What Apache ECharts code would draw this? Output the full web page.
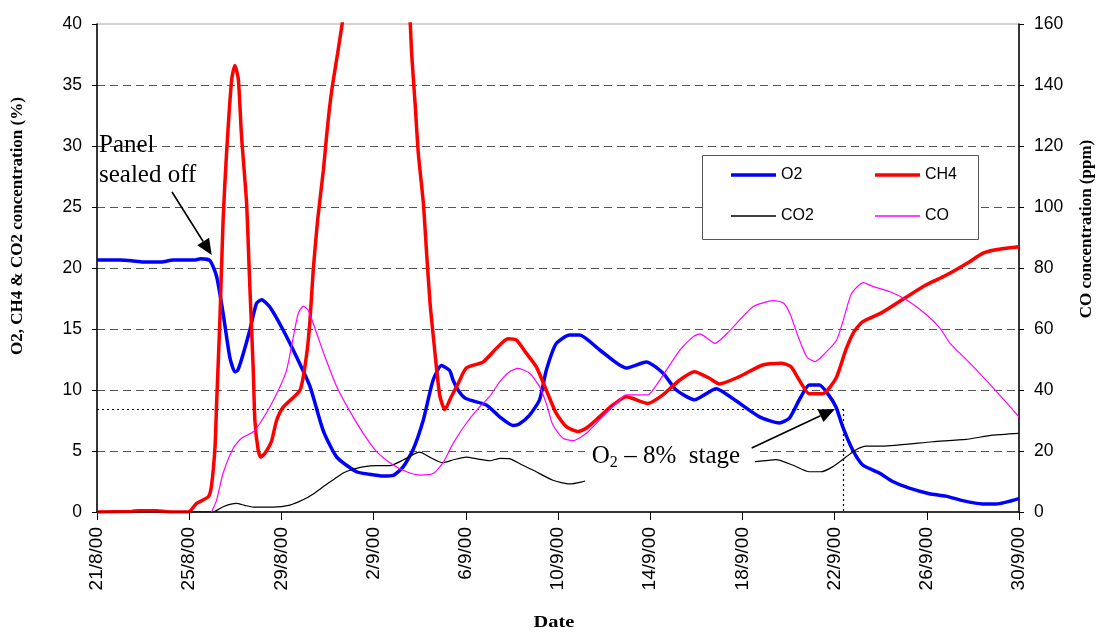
<!DOCTYPE html>
<html>
<head>
<meta charset="utf-8">
<script src="https://cdn.jsdelivr.net/npm/echarts/dist/echarts.min.js"></script>
<style>
  html, body { margin: 0; padding: 0; background: #fff; }
  #chart { width: 1104px; height: 634px; }
</style>
</head>
<body>
<div id="chart"></div>
<script>
// Date axis: days counted from 21/8/00, one label every 4 days
const dateTicks = ['21/8/00', '25/8/00', '29/8/00', '2/9/00', '6/9/00', '10/9/00',
                   '14/9/00', '18/9/00', '22/9/00', '26/9/00', '30/9/00'];
const tickStepDays = 4;

// O2 concentration (%), [day, value]
const o2 = [
  [0, 20.65], [1, 20.65], [1.5, 20.6], [2, 20.5], [2.8, 20.5], [3.3, 20.65], [4.2, 20.65],
  [4.5, 20.75], [4.9, 20.6], [5.19, 19.3], [5.47, 16.3], [5.76, 12.7], [5.98, 11.5], [6.1, 11.6],
  [6.27, 12.5], [6.63, 14.9], [6.92, 17.1], [7.14, 17.4], [7.5, 16.8], [8.08, 14.9], [8.66, 12.7],
  [9.24, 10.3], [9.81, 6.7], [10.4, 4.5], [11.26, 3.3], [11.8, 3.1], [12.41, 2.95], [12.85, 3.0],
  [13.28, 3.7], [13.71, 5.1], [14.15, 7.5], [14.58, 10.8], [14.94, 12.0], [15.3, 11.6],
  [15.45, 10.8], [15.7, 9.9], [16.0, 9.3], [16.89, 8.77], [17.47, 7.8], [18.04, 7.1], [18.3, 7.2],
  [18.77, 7.95], [19.2, 9.2], [19.49, 11.6], [19.92, 13.8], [20.5, 14.5], [20.94, 14.5],
  [21.8, 13.3], [22.96, 11.8], [23.83, 12.3], [24.55, 11.4], [25.13, 10.0], [25.92, 9.2],
  [26.86, 10.1], [27.58, 9.3], [28.74, 7.8], [29.6, 7.3], [30.04, 7.7], [30.47, 9.2],
  [30.9, 10.4], [31.34, 10.4], [31.7, 9.7], [32.06, 8.6], [32.35, 7.0], [32.78, 5.1],
  [33.22, 3.85], [33.94, 3.2], [34.52, 2.5], [35.24, 1.95], [36.11, 1.5], [36.83, 1.3],
  [37.55, 0.93], [38.42, 0.66], [39.0, 0.66], [40, 1.1]
];

// CH4 concentration (%), [day, value]
const ch4 = [
  [0, 0], [1.5, 0.05], [1.8, 0.1], [2.6, 0.1], [3.0, 0.02], [3.5, 0], [3.96, 0], [4.32, 0.7],
  [4.83, 1.25], [4.97, 2.2], [5.12, 5.35], [5.19, 8.9], [5.33, 15.7], [5.47, 23.9], [5.62, 29.4],
  [5.84, 35.4], [5.98, 36.6], [6.13, 35.5], [6.27, 30.8], [6.49, 25.3], [6.63, 18.5],
  [6.78, 11.6], [6.85, 7.5], [6.99, 5.1], [7.1, 4.5], [7.28, 4.8], [7.57, 5.8], [7.79, 7.5],
  [8.08, 8.6], [8.81, 10.0], [9.1, 13.0], [9.24, 15.7], [9.38, 19.8], [9.57, 23.9], [9.82, 28.0],
  [9.96, 30.8], [10.08, 33.0], [10.21, 34.9], [10.44, 37.6], [10.66, 40.3], [11.2, 47],
  [12.0, 53], [12.8, 52], [13.3, 45], [13.58, 40.3], [13.65, 37.6], [13.8, 33.5], [13.94, 29.4],
  [14.16, 25.3], [14.3, 21.2], [14.45, 17.1], [14.59, 14.4], [14.74, 11.6], [14.88, 9.45],
  [15.09, 8.4], [15.37, 9.45], [15.66, 10.5], [16.02, 11.8], [16.75, 12.3], [17.32, 13.4],
  [17.83, 14.2], [18.19, 14.1], [18.63, 13.0], [19.06, 11.9], [19.49, 10.0], [19.92, 8.1],
  [20.36, 7.0], [20.86, 6.6], [21.22, 6.86], [21.8, 7.8], [22.38, 8.77], [22.96, 9.45],
  [23.25, 9.3], [23.9, 8.9], [24.55, 9.6], [25.27, 10.8], [25.92, 11.5], [26.57, 10.96],
  [27.0, 10.5], [27.87, 11.1], [28.88, 12.05], [29.68, 12.2], [30.11, 11.9], [30.47, 10.8],
  [30.9, 9.7], [31.48, 9.7], [32.06, 10.96], [32.49, 13.3], [32.85, 14.8], [33.22, 15.6],
  [34.01, 16.3], [35.1, 17.6], [35.96, 18.6], [36.83, 19.4], [37.84, 20.5], [38.42, 21.2],
  [39.0, 21.5], [40, 21.75]
];

// CO2 concentration (%), [day, value]
const co2 = [
  [0, 0], [5.04, 0], [5.47, 0.43], [6.05, 0.7], [6.4, 0.55], [6.78, 0.4], [7.65, 0.4],
  [8.37, 0.57], [8.94, 1.0], [9.4, 1.5], [9.81, 2.07], [10.3, 2.7], [10.68, 3.2], [11.1, 3.5],
  [11.54, 3.7], [12.12, 3.8], [12.7, 3.8], [13.28, 4.26], [14.0, 4.9], [14.43, 4.5],
  [15.0, 4.04], [15.5, 4.3], [16.02, 4.5], [16.5, 4.35], [17.03, 4.2], [17.5, 4.4], [17.9, 4.37],
  [18.4, 3.9], [18.91, 3.44], [19.78, 2.6], [20.5, 2.3], [21.0, 2.45], [21.44, 2.7],
  [22.5, 3.0], [24, 3.4], [25.5, 3.8], [27, 4.0], [28.0, 4.05], [28.45, 4.1], [29.46, 4.3],
  [30.18, 3.85], [30.9, 3.3], [31.41, 3.3], [31.91, 3.7], [32.49, 4.5], [32.93, 5.1],
  [33.36, 5.4], [34.08, 5.4], [36.25, 5.76], [37.7, 5.95], [38.85, 6.3], [40, 6.45]
];

// CO concentration (ppm, right axis), [day, value]
const co = [
  [4.97, 0], [5.19, 3.9], [5.47, 12.7], [5.91, 20.9], [6.27, 24.2], [6.78, 26.3], [7.07, 29.1],
  [7.5, 34.5], [7.94, 41.1], [8.23, 46.6], [8.52, 57.5], [8.73, 65.1], [8.95, 67.5],
  [9.16, 66.2], [9.53, 58.6], [9.89, 50.9], [10.4, 41.1], [10.98, 32.9], [11.55, 25.8],
  [12.13, 19.8], [12.85, 15.4], [13.43, 13.2], [14.0, 12.1], [14.58, 12.6], [15.0, 16.0],
  [15.45, 22.5], [16.02, 29.1], [16.6, 34.5], [17.03, 37.8], [17.47, 42.7], [17.9, 46.0],
  [18.27, 47.1], [18.77, 45.5], [19.2, 41.1], [19.49, 35.6], [19.78, 28.5], [20.22, 24.2],
  [20.65, 23.4], [21.23, 25.8], [21.8, 30.2], [22.38, 34.5], [22.96, 38.4], [23.9, 38.4],
  [24.27, 41.6], [24.71, 46.6], [25.29, 53.1], [25.87, 57.5], [26.16, 58.4], [26.81, 55.3],
  [27.44, 59.4], [28.46, 67.3], [29.34, 69.3], [29.77, 68.6], [30.06, 65.1], [30.42, 57.5],
  [30.79, 50.9], [31.15, 49.3], [31.58, 52.0], [32.09, 56.4], [32.38, 63.0], [32.74, 71.7],
  [33.25, 75.2], [33.68, 73.9], [34.41, 72.2], [35.13, 69.5], [36.0, 64.6], [36.58, 60.2],
  [37.01, 55.3], [37.87, 48.8], [38.89, 40.6], [40, 31.2]
];

// O2 8% stage marker (day, % level)
const stageDay = 32.36;
const stageLevel = 8.45;

const SANS = '"Liberation Sans", Arial, sans-serif';
const SERIF = '"Liberation Serif", "Times New Roman", serif';

const chart = echarts.init(document.getElementById('chart'), null, { renderer: 'canvas' });

function lineSeries(name, data, color, width, yIndex, z) {
  return {
    name, type: 'line', data, yAxisIndex: yIndex,
    symbol: 'none', smooth: 0.2, z,
    lineStyle: { color, width },
    itemStyle: { color },
    emphasis: { disabled: true },
    animation: false
  };
}

// two single-row legends so the columns line up; bar icons mimic the line weights
function legendRow(top, names, barHeight) {
  return {
    orient: 'horizontal', left: 731, top, padding: 0,
    icon: 'rect', itemWidth: 45, itemHeight: barHeight, itemGap: 14,
    selectedMode: false, z: 5, data: names,
    textStyle: { fontFamily: SANS, fontSize: 16, lineHeight: 16, color: '#000', width: 80 }
  };
}

// arrow = shaft line plus filled head
function arrow(x1, y1, x2, y2) {
  const dx = x2 - x1, dy = y2 - y1, len = Math.hypot(dx, dy);
  const ux = dx / len, uy = dy / len, hl = 16, hw = 7;
  const bx = x2 - ux * hl, by = y2 - uy * hl;
  return [
    { type: 'line', z: 10, shape: { x1, y1, x2: bx, y2: by }, style: { stroke: '#000', lineWidth: 1.6 } },
    { type: 'polygon', z: 10,
      shape: { points: [[x2, y2], [bx - uy * hw, by + ux * hw], [bx + uy * hw, by - ux * hw]] },
      style: { fill: '#000' } }
  ];
}

chart.setOption({
  animation: false,
  backgroundColor: '#fff',
  grid: { left: 97, right: 85, top: 24, bottom: 122, show: true,
          borderColor: '#a6a6a6', borderWidth: 1, backgroundColor: 'transparent' },
  legend: [
    legendRow(167, ['O2', 'CH4'], 3.5),
    legendRow(208, ['CO2', 'CO'], 1.3)
  ],
  xAxis: {
    type: 'value', min: 0, max: 40, interval: tickStepDays,
    axisLine: { show: true, lineStyle: { color: '#000', width: 1.5 } },
    axisTick: { show: true, length: 8, lineStyle: { color: '#000' } },
    axisLabel: {
      rotate: 90, margin: 15, fontFamily: SANS, fontSize: 19, color: '#000',
      formatter: v => dateTicks[Math.round(v / tickStepDays)]
    },
    splitLine: { show: false }
  },
  yAxis: [
    {
      type: 'value', min: 0, max: 40, interval: 5,
      axisLine: { show: true, lineStyle: { color: '#000', width: 1.5 } },
      axisTick: { show: true, length: 5, lineStyle: { color: '#000' } },
      axisLabel: { margin: 15, fontFamily: SANS, fontSize: 17.5, color: '#000' },
      splitLine: { show: true, showMinLine: false, showMaxLine: false,
                   lineStyle: { color: '#555', width: 1, type: [8, 5] } }
    },
    {
      type: 'value', min: 0, max: 160, interval: 20, position: 'right',
      axisLine: { show: true, lineStyle: { color: '#000', width: 1.5 } },
      axisTick: { show: true, length: 5, lineStyle: { color: '#000' } },
      axisLabel: { margin: 15, fontFamily: SANS, fontSize: 17.5, color: '#000' },
      splitLine: { show: false }
    }
  ],
  series: [
    lineSeries('O2', o2, '#0000ff', 3.5, 0, 3),
    lineSeries('CH4', ch4, '#ff0000', 3.5, 0, 4),
    Object.assign(lineSeries('CO2', co2, '#000000', 1.2, 0, 5), {
      markLine: {
        silent: true, symbol: 'none', animation: false,
        label: { show: false },
        lineStyle: { color: '#000', type: [2, 3], width: 1.2 },
        data: [
          [{ coord: [0, stageLevel] }, { coord: [stageDay, stageLevel] }],
          [{ coord: [stageDay, stageLevel] }, { coord: [stageDay, 0] }]
        ]
      }
    }),
    lineSeries('CO', co, '#ff00ff', 1.2, 1, 6)
  ],
  graphic: [
    // legend frame
    { type: 'rect', z: 3, shape: { x: 702.5, y: 155.5, width: 276, height: 84 },
      style: { fill: '#fff', stroke: '#555', lineWidth: 1 } },
    // axis titles
    { type: 'text', z: 10, x: 18, y: 226, rotation: Math.PI / 2,
      style: { text: 'O2, CH4 & CO2 concentration (%)', font: 'bold 17px ' + SERIF,
               fill: '#000', align: 'center', verticalAlign: 'middle' } },
    { type: 'text', z: 10, x: 1087, y: 229, rotation: Math.PI / 2,
      style: { text: 'CO concentration (ppm)', font: 'bold 17px ' + SERIF,
               fill: '#000', align: 'center', verticalAlign: 'middle' } },
    { type: 'text', z: 10, x: 554, y: 623, scaleX: 1.2,
      style: { text: 'Date', font: 'bold 17px ' + SERIF,
               fill: '#000', align: 'center', verticalAlign: 'middle' } },
    // "Panel sealed off" note
    { type: 'text', z: 10, x: 99, y: 145,
      style: { text: 'Panel', font: '25px ' + SERIF, fill: '#000', align: 'left', verticalAlign: 'middle' } },
    { type: 'text', z: 10, x: 99, y: 175,
      style: { text: 'sealed off', font: '25px ' + SERIF, fill: '#000', align: 'left', verticalAlign: 'middle' } },
    ...arrow(172, 192, 211.7, 255),
    // "O2 – 8% stage" note, on a white patch
    { type: 'rect', z: 9, shape: { x: 585, y: 439, width: 170, height: 44 },
      style: { fill: '#fff' } },
    { type: 'text', z: 10, x: 591.7, y: 456.6,
      style: { text: 'O', font: '25px ' + SERIF, fill: '#000', align: 'left', verticalAlign: 'middle' } },
    { type: 'text', z: 10, x: 609.7, y: 463,
      style: { text: '2', font: '16px ' + SERIF, fill: '#000', align: 'left', verticalAlign: 'middle' } },
    { type: 'text', z: 10, x: 618, y: 456.6,
      style: { text: ' \u2013 8%  stage', font: '25px ' + SERIF, fill: '#000', align: 'left', verticalAlign: 'middle' } },
    ...arrow(751.7, 448, 835, 409)
  ]
});
</script>
</body>
</html>
